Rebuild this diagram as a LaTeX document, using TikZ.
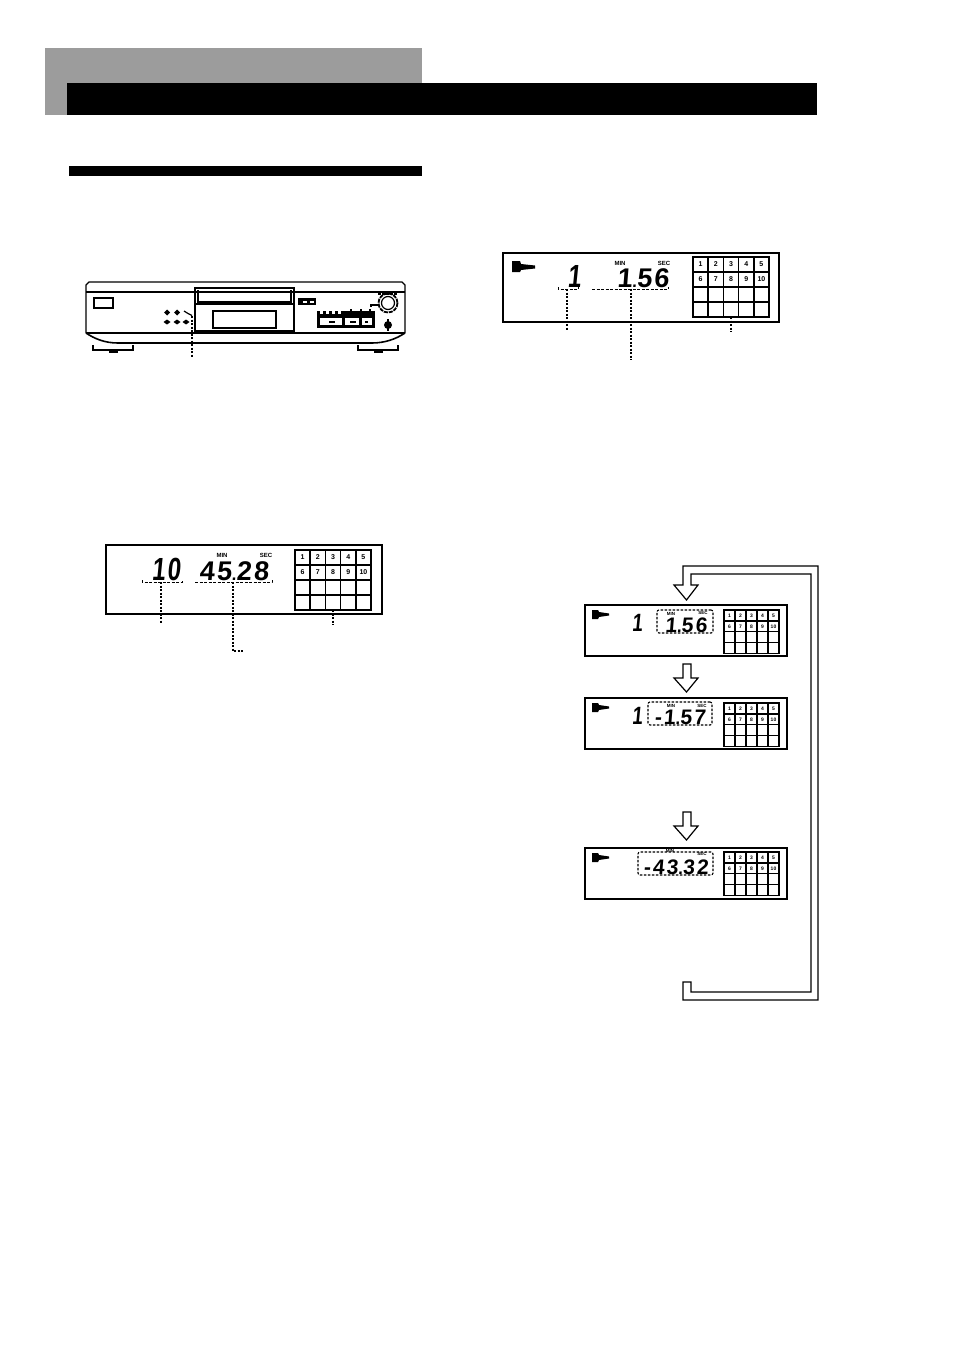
\documentclass[tikz,border=0pt]{standalone}
\usepackage{fontspec}
\newfontfamily\lcdfont[FakeSlant=.08,LetterSpace=8]{Liberation Sans}
\newfontfamily\lcdsmall[FakeSlant=.08,LetterSpace=10]{Liberation Sans}
\newfontfamily\lcdtall[FakeSlant=.1,FakeStretch=.75,LetterSpace=6]{Liberation Sans}
\newcommand\lcddot{{\fontsize{17}{17}\selectfont.}}
\setsansfont{Liberation Sans}
\usetikzlibrary{positioning}
\begin{document}
\begin{tikzpicture}[x=1pt,y=-1pt,
        lcdframe/.style={% For the display panels
            rectangle,
            draw,
            line width=2pt,
            anchor=north west,
            inner sep=0pt,
            outer sep=0pt,
            },
        bigcell/.style={% For the track grid of a large panel
            rectangle,
            draw,
            line width=1.6pt,
            inner sep=0pt,
            outer sep=0pt,
            minimum width=15.2pt,
            minimum height=15pt,
            font=\sffamily\bfseries\fontsize{7}{7}\selectfont,
            },
        smallcell/.style={% For the track grid of a small panel
            bigcell,
            line width=1.3pt,
            minimum width=11pt,
            minimum height=10.9pt,
            font=\sffamily\bfseries\fontsize{5}{5}\selectfont,
            },
        trackdigit/.style={% Large track number
            anchor=base,
            inner sep=0pt,
            font=\lcdtall\bfseries\fontsize{32}{32}\selectfont,
            },
        bigdigit/.style={% Large display digits
            trackdigit,
            font=\lcdfont\bfseries\fontsize{27}{27}\selectfont,
            },
        smalltrack/.style={% Small track number
            trackdigit,
            font=\lcdtall\bfseries\fontsize{25}{25}\selectfont,
            },
        smalldigit/.style={% Small display digits
            trackdigit,
            font=\lcdsmall\bfseries\fontsize{21}{21}\selectfont,
            },
        unitlabel/.style={% MIN and SEC
            inner sep=0pt,
            font=\sffamily\bfseries\fontsize{6}{6}\selectfont,
            },
        smallunit/.style={% MIN and SEC in the small panels
            unitlabel,
            font=\sffamily\bfseries\fontsize{4.5}{4.5}\selectfont,
            },
        timebox/.style={% Dashed box round the time
            rectangle,
            draw,
            dash pattern=on 2.5pt off 1.5pt,
            rounded corners=2pt,
            line width=1.1pt,
            inner sep=0pt,
            },
        leader/.style={% Dotted lines under the displays
            line width=1.4pt,
            dash pattern=on 2pt off 1.5pt,
            },
        bracket/.style={% Dashed marks under the digits
            line width=.9pt,
            dash pattern=on 3pt off 1.5pt,
            },
        hollow/.style={% Outline of the cycle arrows
            line width=1.2pt,
            line join=miter,
            },
            ]
        \useasboundingbox (0,0) rectangle (954,1351);
        % Header bars
        \fill[black!39] (45,48) rectangle (422,115);
        \fill[black] (67,83) rectangle (817,115);
        \fill[black] (69,166) rectangle (422,176);

        % Draw the player
        \draw[line width=1.4pt] (86,333) -- (86,285) -- (89,282) -- (402,282) -- (405,285) -- (405,333);
        \draw[line width=1.8pt] (86,292) -- (405,292);
        \draw[line width=1.8pt] (86,333) -- (405,333);
        \draw[line width=1.6pt] (86,333) .. controls (95,339) and (105,343) .. (118,343) -- (372,343) .. controls (385,343) and (396,339) .. (405,333);
        \draw[line width=1.2pt] (94,298) rectangle (113,308);
        \draw[line width=2.4pt] (195,288) rectangle (294,331);
        \draw[line width=1.2pt] (198,290) -- (198,302) -- (291,302) -- (291,290);
        \draw[line width=1.2pt] (195,304) -- (294,304);
        \draw[line width=1.2pt] (213,311) rectangle (276,328);
        % feet
        \foreach \X in {93,358} {
            \draw[line width=1.6pt] (\X,345) -- (\X,350) -- (\X+40,350) -- (\X+40,345);
            \fill (\X+16,350) rectangle (\X+25,352.5);
        }
        % buttons
        \foreach \X in {167,177,186} {
            \fill (\X,322) ++(-3.5,0) -- ++(3.5,-2.5) -- ++(3.5,2.5) -- ++(-3.5,2.5) -- cycle;
        }
        \foreach \X in {167,177} {
            \fill (\X,312.5) ++(-3,0) -- ++(3,-3) -- ++(3,3) -- ++(-3,3) -- cycle;
        }
        \coordinate (btn) at (184,311);
        \coordinate (btnend) at (192,358);
        \draw[line width=1.2pt] (btn) -- ++(4,2.5) -- ++(4,2);
        \draw[leader] (192,316) -- (btnend);
        % tape pill
        \fill (298,298) rectangle (316,305);
        \fill[white] (303,300.5) rectangle (307,302.5);
        \fill[white] (310,300.5) rectangle (314,302.5);
        % button group
        \draw[line width=1.4pt,fill=black] (318,312) rectangle (374,327);
        \fill[white] (320,318) rectangle (342,325);
        \fill[white] (344.5,318) rectangle (359,325);
        \fill[white] (361.5,318) rectangle (372,325);
        \fill (329,320.5) rectangle (335,322.5);
        \fill (350,320.5) rectangle (356,322.5);
        \fill (365,320.5) rectangle (368,322.5);
        \draw[line width=3pt,white,dash pattern=on 3pt off 3pt] (320,312.5) -- (343,312.5);
        \foreach \X in {351,361,370} {
            \fill (\X-1,309) rectangle (\X+1,315);
            \fill (\X-2.5,311) rectangle (\X+2.5,313);
        }
        % knob and jack
        \draw[line width=1.8pt,dash pattern=on 4pt off 1pt] (388,303) circle (9.5);
        \draw[line width=1.2pt] (388,303) circle (6.5);
        \draw[line width=1.2pt] (371,307) -- (371,305) -- (378,305);
        \draw[line width=2pt,dash pattern=on 3pt off 1pt] (378,293.5) -- (397,293.5);
        \fill (388,325) circle (4);
        \fill (387,319) rectangle (389,331);

        % Draw the panels
        \node[lcdframe,minimum width=276pt,minimum height=69pt] (pa) at (503,253) {};
        \node[lcdframe,minimum width=276pt,minimum height=69pt] (pb) at (106,545) {};
        \node[lcdframe,minimum width=202pt,minimum height=51pt] (pc) at (585,605) {};
        \node[lcdframe,minimum width=202pt,minimum height=51pt] (pd) at (585,698) {};
        \node[lcdframe,minimum width=202pt,minimum height=51pt] (pe) at (585,848) {};

        % Draw the grids named by panel and track
        \foreach \X/\Y/\G in {693/257/a,295/550/b}
        \foreach \R in {0,1,2,3}
        \foreach \C in {1,...,5}
        {\pgfmathtruncatemacro\N{\R*5+\C}
         \node[bigcell] (\G\N) at (\X+\C*15.2-7.6,\Y+\R*15+7.5) {\ifnum\R<2 \N\fi};}
        \foreach \X/\Y/\G in {724/610/c,724/703/d,724/852/e}
        \foreach \R in {0,1,2,3}
        \foreach \C in {1,...,5}
        {\pgfmathtruncatemacro\N{\R*5+\C}
         \node[smallcell] (\G\N) at (\X+\C*11-5.5,\Y+\R*10.9+5.45) {\ifnum\R<2 \N\fi};}

        % Play marks
        \fill (512,261) -- (520,261) -- (521,264) -- (535,265.5) -- (535,268.5) -- (521,270) -- (520,272) -- (512,272) -- cycle;
        \foreach \Y in {610,703,853}
        {\fill (592,\Y) -- (598,\Y) -- (599,\Y+2) -- (609,\Y+3.5) -- (609,\Y+5.5) -- (599,\Y+7) -- (598,\Y+9) -- (592,\Y+9) -- cycle;}

        % Digits of the large panels
        \node[trackdigit] (ta) at (574,287) {1};
        \node[bigdigit] (tb) at (643,287) {1\lcddot 56};
        \node[trackdigit] (tc) at (166,580) {10};
        \node[bigdigit] (td) at (234,580) {45\lcddot 28};
        \node[unitlabel] (ma) at (620,263) {MIN};
        \node[unitlabel] (sa) at (664,263) {SEC};
        \node[unitlabel] (mb) at (222,555) {MIN};
        \node[unitlabel] (sb) at (266,555) {SEC};

        % Digits of the small panels
        \node[smalltrack] (te) at (637,631) {1};
        \node[smalltrack] (tf) at (637,724) {1};
        \node[timebox,minimum width=56pt,minimum height=23pt] (bc) at (685,621.5) {};
        \node[timebox,minimum width=64pt,minimum height=23pt] (bd) at (680,713.5) {};
        \node[timebox,minimum width=75pt,minimum height=23pt] (be) at (675.5,863.5) {};
        \node[smalldigit] (tg) at (686,632) {1\lcddot 56};
        \node[smalldigit] (th) at (680,724) {-1\lcddot 57};
        \node[smalldigit] (ti) at (676,874) {-43\lcddot 32};
        \node[smallunit] (mc) at (671,614) {MIN};
        \node[smallunit] (sc) at (703,612.5) {SEC};
        \node[smallunit] (md) at (671,706) {MIN};
        \node[smallunit] (sd) at (702,706) {SEC};
        \node[smallunit] (me) at (670,851) {MIN};
        \node[smallunit] (se) at (702,853.5) {SEC};

        % Brackets under the digits
        \coordinate (ba) at (567,289);
        \coordinate (bb) at (631,289);
        \coordinate (bf) at (161,582);
        \coordinate (bg) at (233,582);
        \draw[bracket] (558,287) -- (558,289) -- (578,289) -- (578,287);
        \draw[bracket] (592,289) -- (668,289) -- (668,287);
        \draw[bracket] (142,580) -- (142,582) -- (182,582) -- (182,580);
        \draw[bracket] (195,582) -- (272,582) -- (272,580);

        % Leaders
        \coordinate (la) at (567,331);
        \coordinate (lb) at (631,360);
        \coordinate (ld) at (161,623);
        \coordinate (le) at (233,651);
        \coordinate (lf) at (243,651);
        \draw[leader] (ba) -- (la);
        \draw[leader] (bb) -- (lb);
        \draw[leader] (a18.south) -- ++(0,15) coordinate (lc);
        \draw[leader] (bf) -- (ld);
        \draw[leader] (bg) -- (le) -- (lf);
        \draw[leader] (b18.south) -- ++(0,15) coordinate (lg);

        % Cycle line with its arrow head
        \draw[hollow] (683,585) -- (683,566) -- (818,566) -- (818,1000) -- (683,1000) -- (683,982) -- (691,982) -- (691,992) -- (811,992) -- (811,574) -- (691,574) -- (691,585) -- (698,585) -- (686.5,600) -- (674,585) -- cycle;
        % Arrows between the panels
        \foreach \Y in {664,812}
        {\draw[hollow] (683,\Y) -- (691,\Y) -- (691,\Y+14) -- (698,\Y+14) -- (686.5,\Y+28) -- (674,\Y+14) -- (683,\Y+14) -- cycle;}
\end{tikzpicture}
\end{document}
